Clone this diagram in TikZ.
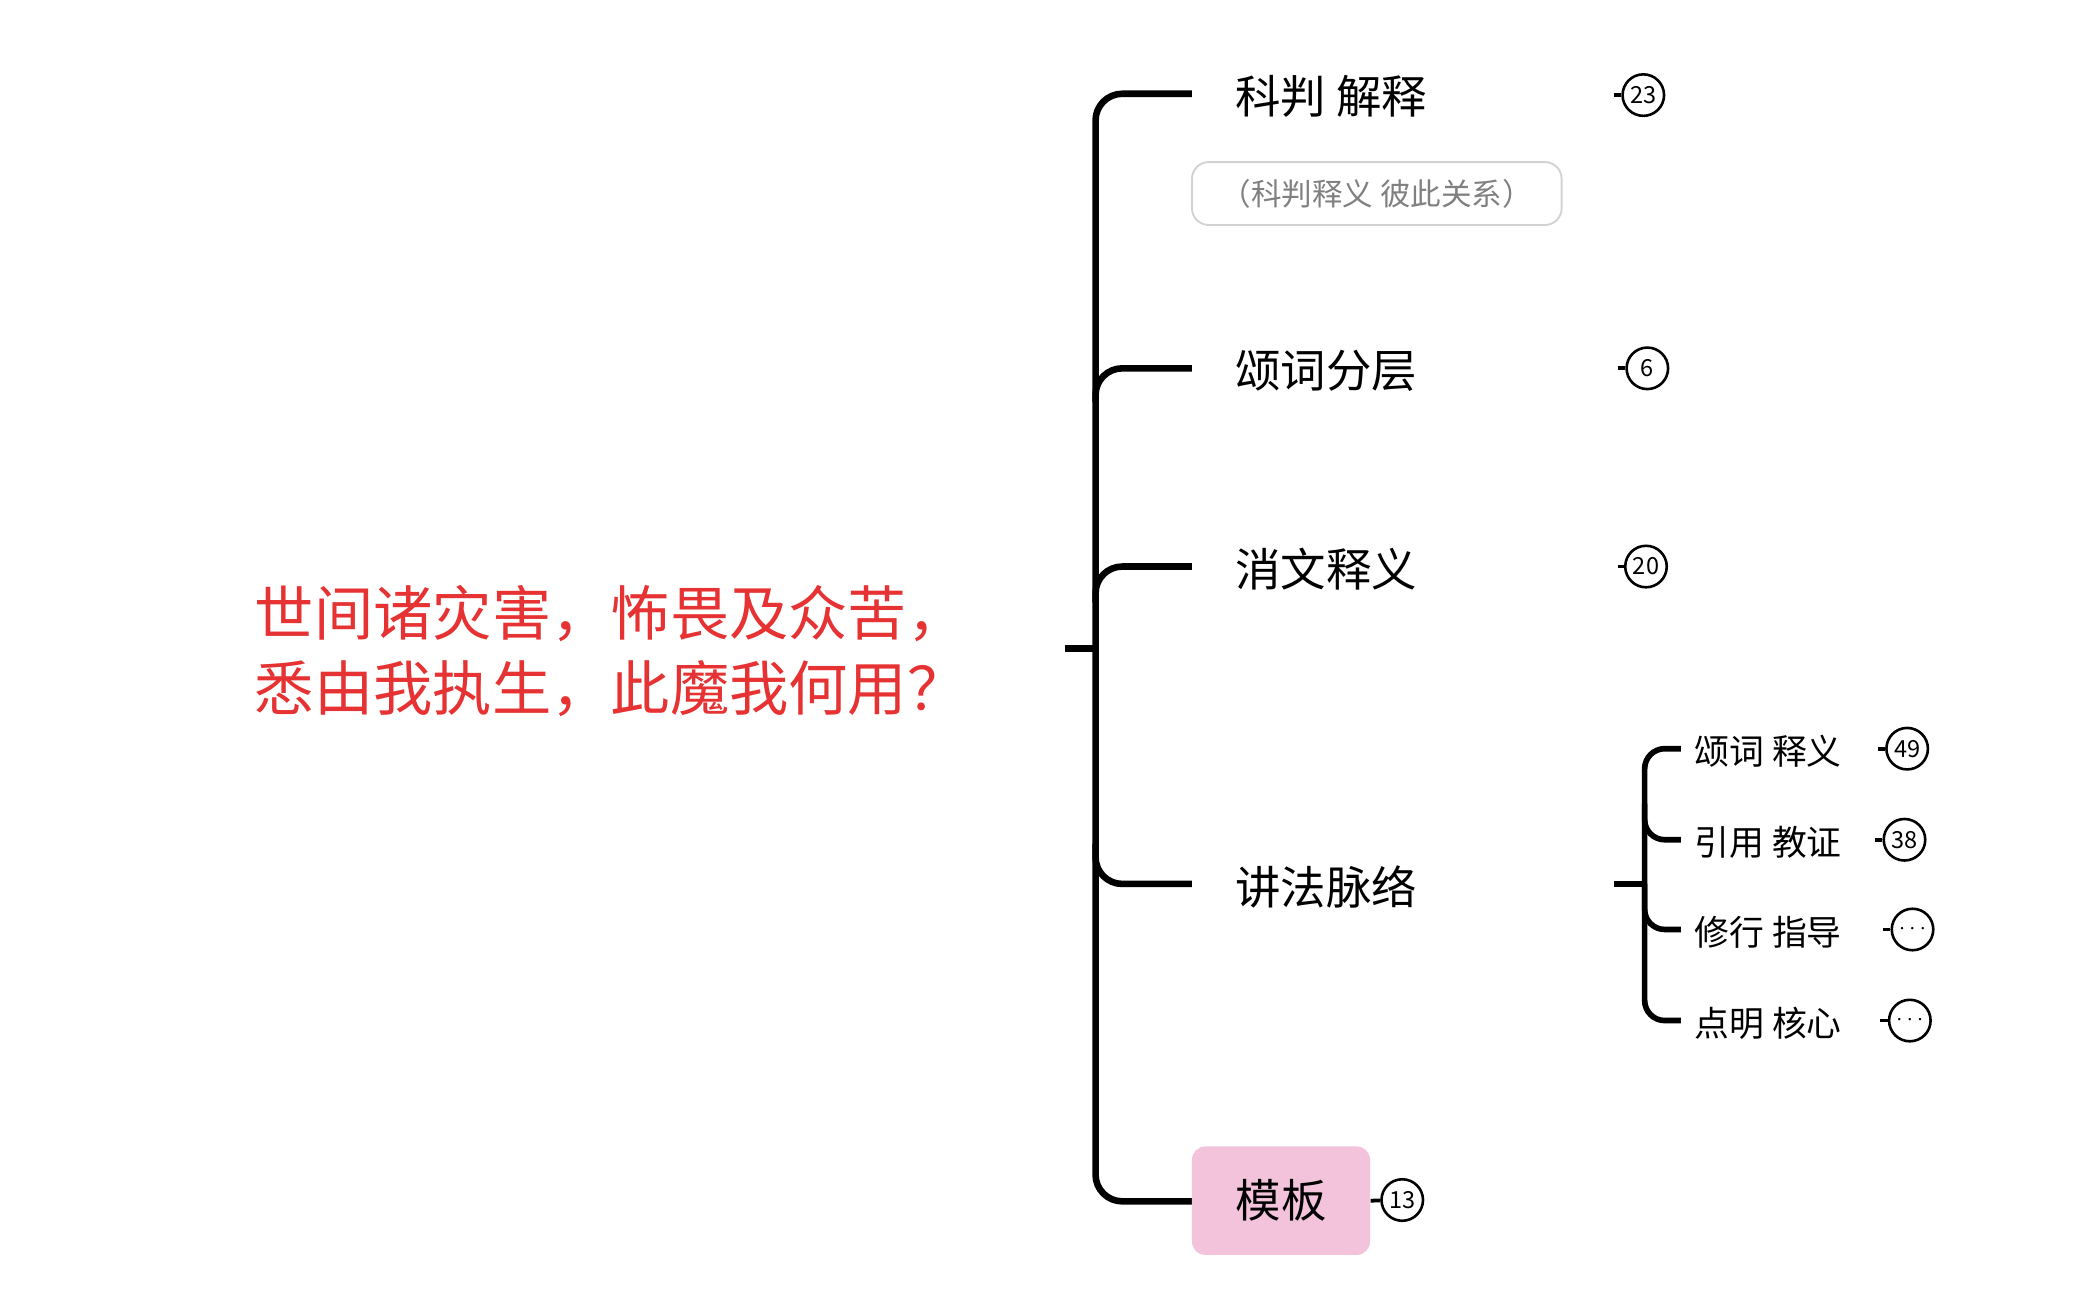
\documentclass[tikz,border=0pt]{standalone}
\usepackage{fontspec}
\setmainfont{Noto Sans CJK SC}
\definecolor{rootred}{HTML}{E63232}
\definecolor{pinkbox}{HTML}{F3C3DB}
\begin{document}
\begin{tikzpicture}[x=0.02cm,y=-0.02cm,
  br/.style={line width=2.8pt,rounded corners=0.4cm},
  sbr/.style={line width=2.4pt,rounded corners=0.3cm},
  lbl/.style={anchor=west,font=\fontsize{19.3}{22}\selectfont,inner sep=0pt},
  slbl/.style={anchor=west,font=\fontsize{14.8}{17}\selectfont,inner sep=0pt},
  badge/.style={circle,draw,line width=1.1pt,minimum size=0.62cm,inner sep=0pt,font=\fontsize{10}{11}\selectfont},
  stub/.style={line width=1.6pt}]
\useasboundingbox (0,0) rectangle (1568,968.6);
\node[anchor=west,text=rootred,align=left,font=\fontsize{25.2}{32}\selectfont,inner sep=0pt] (root) at (190,486) {世间诸灾害，怖畏及众苦，\\悉由我执生，此魔我何用？};
\coordinate (r0) at (795,484); \coordinate (r1) at (818,484);
\draw[line width=2.8pt] (r0) -- (r1);
\coordinate (a) at (890,70); \coordinate (b) at (890,275); \coordinate (c) at (890,423);
\coordinate (d) at (890,660); \coordinate (e) at (890,897);
\draw[br] (a) -- (818,70) -- (818,897) -- (e);
\draw[br] (818,300) |- (b);
\draw[br] (818,450) |- (c);
\draw[br] (818,630) |- (d);
\node[lbl] (t1) at (922,72) {科判 解释};
\node[lbl] (t2) at (922,277) {颂词分层};
\node[lbl] (t3) at (922,425) {消文释义};
\node[lbl] (t4) at (922,662) {讲法脉络};
\node[fill=pinkbox,rounded corners=0.2cm,minimum width=133*0.02cm,minimum height=81*0.02cm,font=\fontsize{19.3}{22}\selectfont] (t5) at (956.5,896.5) {模板};
\node[draw=gray!35,line width=0.8pt,rounded corners=0.25cm,minimum width=276*0.02cm,minimum height=47*0.02cm,text=gray,font=\fontsize{13}{15}\selectfont] (note) at (1028,144.5) {（科判释义 彼此关系）};
\node[badge] (b1) at (1227,71) {23}; \draw[stub] (1205,71) -- (b1);
\node[badge] (b2) at (1230,275) {6}; \draw[stub] (1208,275) -- (b2);
\node[badge] (b3) at (1229,423) {20}; \draw[stub] (1208,423) -- (b3);
\node[badge] (b5) at (1047,896) {13}; \draw[stub] (t5.east) -- (b5);
\draw[line width=2.4pt] (1205,660) -- (1228,660);
\draw[sbr] (1255,559) -- (1228,559) -- (1228,762) -- (1255,762);
\draw[sbr] (1228,600) |- (1255,627);
\draw[sbr] (1228,660) |- (1255,694);
\node[slbl] (s1) at (1265,561) {颂词 释义};
\node[slbl] (s2) at (1265,629) {引用 教证};
\node[slbl] (s3) at (1265,696) {修行 指导};
\node[slbl] (s4) at (1265,764) {点明 核心};
\node[badge] (c1) at (1424,559) {49}; \draw[stub] (1402,559) -- (c1);
\node[badge] (c2) at (1422,627) {38}; \draw[stub] (1400,627) -- (c2);
\node[badge] (c3) at (1428,694) {$\cdots$}; \draw[stub] (1406,694) -- (c3);
\node[badge] (c4) at (1426,762) {$\cdots$}; \draw[stub] (1404,762) -- (c4);
\end{tikzpicture}
\end{document}
